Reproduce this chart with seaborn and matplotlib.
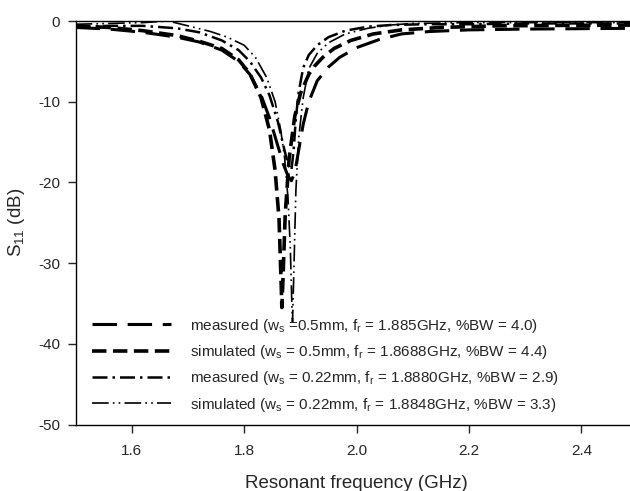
import pandas as pd
import seaborn as sns
import matplotlib
matplotlib.use("Agg")
import matplotlib.pyplot as plt

sns.set_style("ticks")
plt.rcParams["font.family"] = ["Liberation Sans", "DejaVu Sans"]
plt.rcParams["mathtext.fontset"] = "custom"
plt.rcParams["mathtext.rm"] = "Liberation Sans"
plt.rcParams["mathtext.it"] = "Liberation Sans:italic"
plt.rcParams["axes.unicode_minus"] = False

# measured, ws = 0.5 mm
meas_05_freq = [1.50, 1.56, 1.62, 1.68, 1.72, 1.76, 1.79, 1.81, 1.83, 1.845, 1.86, 1.87,
                1.878, 1.884, 1.89, 1.897, 1.905, 1.915, 1.93, 1.95, 1.97, 2.00, 2.04,
                2.08, 2.13, 2.20, 2.30, 2.40, 2.50]
meas_05_s11 = [-0.8, -1.0, -1.4, -2.0, -2.6, -3.6, -5.0, -6.6, -9.2, -12.0, -15.5, -17.8,
               -19.2, -19.8, -18.8, -16.0, -12.8, -10.0, -7.4, -5.7, -4.5, -3.3, -2.3,
               -1.6, -1.3, -1.1, -1.0, -0.95, -0.9]

# simulated, ws = 0.5 mm
sim_05_freq = [1.50, 1.56, 1.62, 1.68, 1.72, 1.76, 1.79, 1.81, 1.83, 1.845, 1.855, 1.862,
               1.866, 1.867, 1.869, 1.873, 1.88, 1.89, 1.90, 1.915, 1.925, 1.94, 1.96,
               1.99, 2.03, 2.08, 2.15, 2.25, 2.35, 2.50]
sim_05_s11 = [-0.6, -0.8, -1.2, -1.8, -2.5, -3.4, -4.8, -6.5, -9.5, -13.5, -18.5, -24.5,
              -33.0, -35.5, -32.0, -24.0, -17.0, -11.8, -9.0, -6.6, -5.6, -4.5, -3.4,
              -2.4, -1.6, -1.1, -0.8, -0.6, -0.55, -0.5]

# measured, ws = 0.22 mm
meas_022_freq = [1.50, 1.56, 1.62, 1.68, 1.72, 1.76, 1.79, 1.81, 1.83, 1.845, 1.86, 1.87,
                 1.878, 1.884, 1.888, 1.892, 1.897, 1.905, 1.915, 1.93, 1.95, 1.98, 2.02,
                 2.06, 2.12, 2.20, 2.30, 2.40, 2.50]
meas_022_s11 = [-0.7, -0.6, -0.6, -0.9, -1.4, -2.4, -3.6, -5.0, -7.0, -9.2, -12.5, -15.5,
                -17.8, -18.5, -16.0, -12.0, -8.8, -5.8, -4.2, -3.0, -2.0, -1.2, -0.7,
                -0.5, -0.4, -0.4, -0.3, -0.3, -0.3]

# simulated, ws = 0.22 mm
sim_022_freq = [1.50, 1.56, 1.62, 1.665, 1.70, 1.74, 1.77, 1.80, 1.82, 1.84, 1.855, 1.865,
                1.872, 1.878, 1.882, 1.885, 1.886, 1.888, 1.892, 1.897, 1.905, 1.915,
                1.93, 1.95, 1.98, 2.02, 2.06, 2.10, 2.20, 2.30, 2.40, 2.50]
sim_022_s11 = [-0.4, -0.3, -0.2, 0.0, -0.6, -1.3, -2.0, -3.0, -4.5, -7.0, -10.0, -13.5,
               -17.0, -22.0, -28.0, -35.5, -37.3, -32.0, -21.0, -14.5, -9.5, -5.9,
               -4.0, -2.7, -1.6, -0.9, -0.5, -0.3, -0.2, -0.2, -0.2, -0.2]

labels = [
    "measured (w$_\\mathrm{s}$ =0.5mm, f$_\\mathrm{r}$ = 1.885GHz, %BW = 4.0)",
    "simulated (w$_\\mathrm{s}$ = 0.5mm, f$_\\mathrm{r}$ = 1.8688GHz, %BW = 4.4)",
    "measured (w$_\\mathrm{s}$ = 0.22mm, f$_\\mathrm{r}$ = 1.8880GHz, %BW = 2.9)",
    "simulated (w$_\\mathrm{s}$ = 0.22mm, f$_\\mathrm{r}$ = 1.8848GHz, %BW = 3.3)",
]

series = [
    (meas_05_freq, meas_05_s11, 2.2, (0, (8, 3.5))),
    (sim_05_freq, sim_05_s11, 2.6, (0, (4, 1.8))),
    (meas_022_freq, meas_022_s11, 1.8, (0, (6, 2, 1, 2))),
    (sim_022_freq, sim_022_s11, 1.2, (0, (10, 2.5, 1, 2.5, 1, 2.5))),
]

fig = plt.figure(figsize=(6.3, 4.91), dpi=100)
ax = fig.add_axes([0.120, 0.1354, 0.892, 0.8218])

for label, (f, s, lw, ls) in zip(labels, series):
    df = pd.DataFrame({"freq": f, "s11": s})
    sns.lineplot(data=df, x="freq", y="s11", ax=ax, color="black", lw=lw,
                 linestyle=ls, label=label, estimator=None, sort=False)

ax.set_xlim(1.5, 2.5)
ax.set_ylim(-50, 0)
ax.set_xticks([1.6, 1.8, 2.0, 2.2, 2.4])
ax.set_xticklabels(["1.6", "1.8", "2.0", "2.2", "2.4"])
ax.set_yticks([0, -10, -20, -30, -40, -50])
ax.tick_params(axis="x", direction="out", length=6, width=1, pad=8, labelsize=11)
ax.tick_params(axis="y", direction="out", length=6, width=1, pad=5, labelsize=11)
for side in ["left", "bottom", "top"]:
    ax.spines[side].set_linewidth(1)
    ax.spines[side].set_color("black")
ax.spines["right"].set_visible(False)

ax.set_xlabel("Resonant frequency (GHz)", fontsize=13.5, labelpad=12)
ax.set_ylabel("S$_\\mathrm{11}$ (dB)", fontsize=13.5, labelpad=8)

leg = ax.legend(loc="lower left", frameon=False, fontsize=11, handlelength=5.2,
                handletextpad=1.2, labelspacing=0.55, borderaxespad=0.3,
                bbox_to_anchor=(0.01, 0.0))

fig.savefig("out.png", dpi=100)
